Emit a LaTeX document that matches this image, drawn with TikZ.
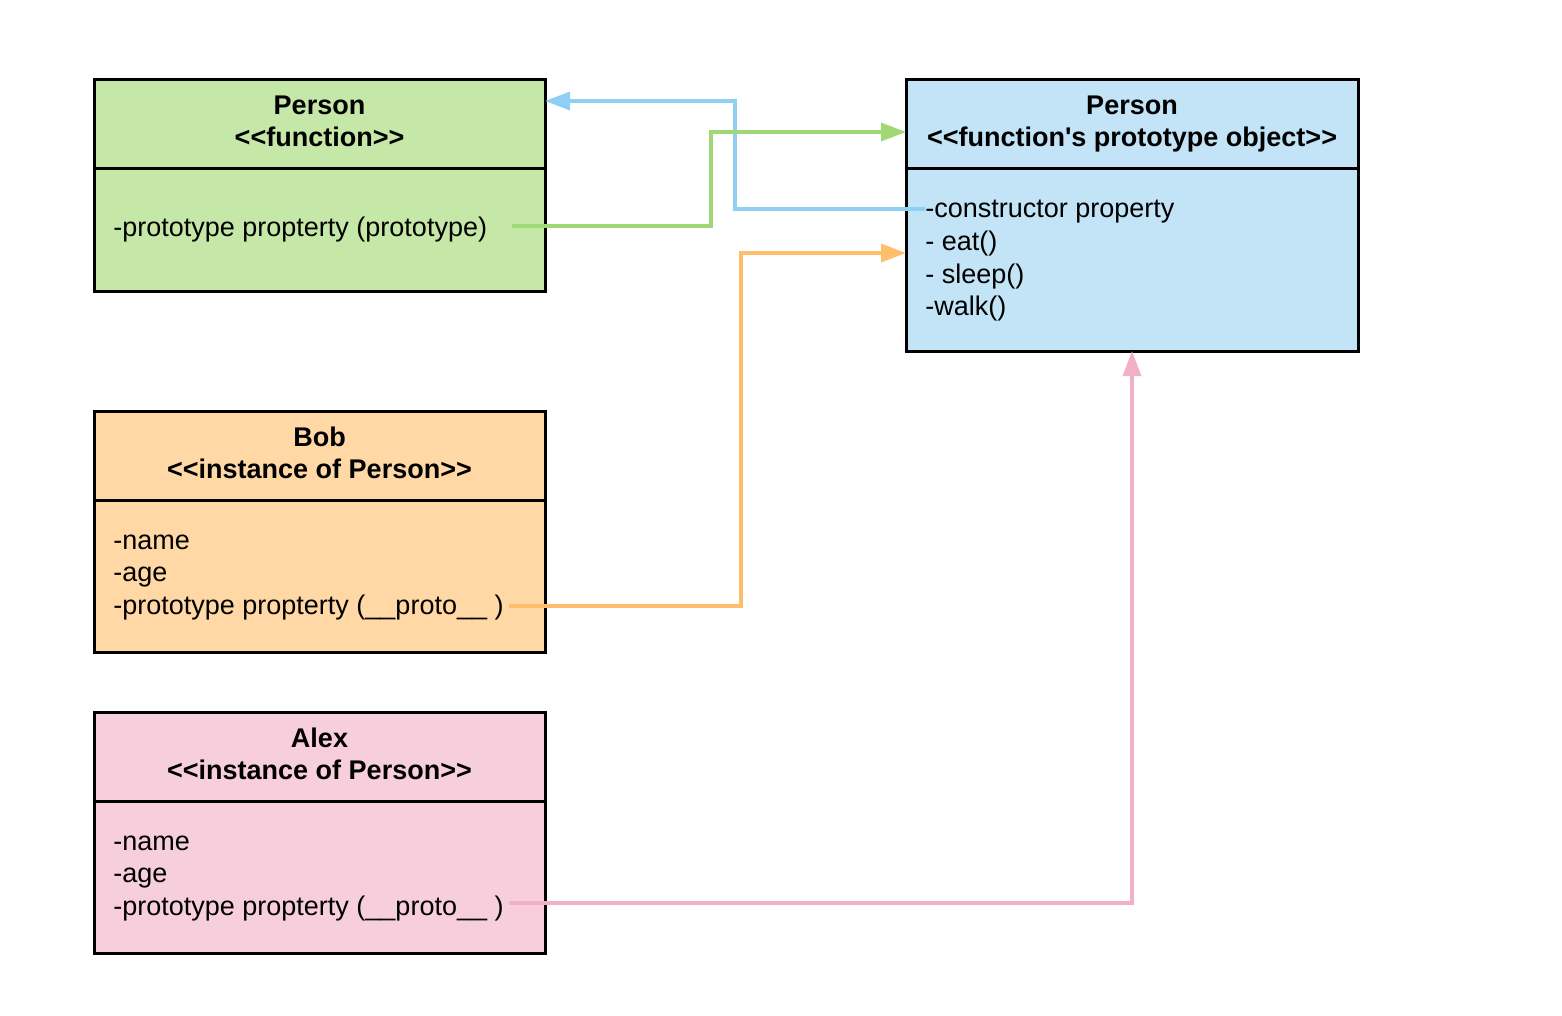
\documentclass[tikz,border=0pt]{standalone}
\usepackage{fontspec}
\newfontfamily\lsans{Liberation Sans}
\usetikzlibrary{arrows.meta}
\definecolor{gfill}{HTML}{C5E7A7}
\definecolor{bfill}{HTML}{C2E4F6}
\definecolor{ofill}{HTML}{FFD8A6}
\definecolor{pfill}{HTML}{F7CEDC}
\definecolor{gline}{HTML}{9FD874}
\definecolor{bline}{HTML}{8FCFF3}
\definecolor{oline}{HTML}{FFBE6B}
\definecolor{pline}{HTML}{F2B0C8}
\tikzset{
  boxpart/.style={draw=black, line width=1.5pt, rectangle, inner sep=0pt, outer sep=0pt, anchor=north west},
  hdtext/.style={font=\lsans\bfseries\fontsize{13.5pt}{16pt}\selectfont, inner sep=0pt, anchor=base},
  bdtext/.style={font=\lsans\fontsize{13.5pt}{16pt}\selectfont, inner sep=0pt, anchor=base west},
  conn/.style={line width=1.7pt, -{Triangle[length=12.5pt,width=9pt]}},
}
\begin{document}
\begin{tikzpicture}[x=0.5pt,y=-0.5pt]
\useasboundingbox (0,0) rectangle (1562,1016);
% Person function (green)
\node[boxpart, fill=gfill, minimum width=225.5pt, minimum height=44.5pt] (fh) at (94,80) {};
\node[boxpart, fill=gfill, minimum width=225.5pt, minimum height=61pt] (fb) at (94,169) {};
\node[hdtext] (fh1) at (319.5,115) {Person};
\node[hdtext] (fh2) at (319.5,147) {<<function>>};
\node[bdtext] (fb1) at (113,236) {-prototype propterty (prototype)};
% Person prototype object (blue)
\node[boxpart, fill=bfill, minimum width=226pt, minimum height=44.5pt] (bh) at (906,80) {};
\node[boxpart, fill=bfill, minimum width=226pt, minimum height=91pt] (bb) at (906,169) {};
\node[hdtext] (bh1) at (1132,115) {Person};
\node[hdtext] (bh2) at (1132,147) {<<function\char"27 s prototype object>>};
\node[bdtext] (bb1) at (925,218) {-constructor property};
\node[bdtext] (bb2) at (925,250.5) {- eat()};
\node[bdtext] (bb3) at (925,283) {- sleep()};
\node[bdtext] (bb4) at (925,315.5) {-walk()};
% Bob (orange)
\node[boxpart, fill=ofill, minimum width=225.5pt, minimum height=44.5pt] (oh) at (94,411) {};
\node[boxpart, fill=ofill, minimum width=225.5pt, minimum height=76pt] (ob) at (94,500) {};
\node[hdtext] (oh1) at (319.5,446) {Bob};
\node[hdtext] (oh2) at (319.5,478) {<<instance of Person>>};
\node[bdtext] (ob1) at (113,549) {-name};
\node[bdtext] (ob2) at (113,581.5) {-age};
\node[bdtext] (ob3) at (113,614) {-prototype propterty (\_\_proto\_\_ )};
% Alex (pink)
\node[boxpart, fill=pfill, minimum width=225.5pt, minimum height=44.5pt] (ph) at (94,712) {};
\node[boxpart, fill=pfill, minimum width=225.5pt, minimum height=76pt] (pb) at (94,801) {};
\node[hdtext] (ph1) at (319.5,747) {Alex};
\node[hdtext] (ph2) at (319.5,779) {<<instance of Person>>};
\node[bdtext] (pb1) at (113,850) {-name};
\node[bdtext] (pb2) at (113,882.5) {-age};
\node[bdtext] (pb3) at (113,915) {-prototype propterty (\_\_proto\_\_ )};
% connector end points
\coordinate (gs) at (512,226);
\coordinate (bs) at (925,209);
\coordinate (os) at (509,606);
\coordinate (ps) at (509,903);
% connectors
\draw[conn, draw=bline] (bs) -| (735,101) -- ([yshift=11.75pt]fh.east);
\draw[conn, draw=gline] (gs) -| (711,132) -- ([yshift=-3.75pt]bh.west);
\draw[conn, draw=oline] (os) -| (741,253) -- ([yshift=3.5pt]bb.west);
\draw[conn, draw=pline] (ps) -| (bb.south);
\end{tikzpicture}
\end{document}
